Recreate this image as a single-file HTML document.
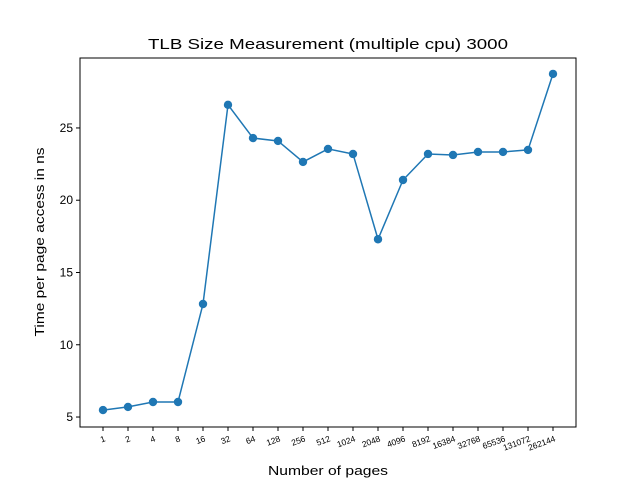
<!DOCTYPE html>
<html><head><meta charset="utf-8"><style>
body{margin:0;background:#fff}
svg{font-family:"Liberation Sans","DejaVu Sans",sans-serif}
</style></head><body>
<svg id="chart" width="640" height="480" viewBox="0 0 640 480" xmlns="http://www.w3.org/2000/svg">
<rect width="640" height="480" fill="#fff"/>
<text x="328" y="49" text-anchor="middle" font-size="14.5" textLength="360" lengthAdjust="spacingAndGlyphs">TLB Size Measurement (multiple cpu) 3000</text>
<text x="328" y="475" text-anchor="middle" font-size="13" textLength="120" lengthAdjust="spacingAndGlyphs">Number of pages</text>
<text transform="translate(44,242) rotate(-90)" text-anchor="middle" font-size="13" textLength="189" lengthAdjust="spacingAndGlyphs">Time per page access in ns</text>
<g id="plot"></g>
<rect x="80" y="58" width="496" height="369" fill="none" stroke="#000" stroke-width="1"/>
</svg>
<script>
const categories=["1","2","4","8","16","32","64","128","256","512","1024","2048","4096","8192","16384","32768","65536","131072","262144"];
const values=[5.48,5.7,6.04,6.04,12.82,26.6,24.3,24.1,22.65,23.55,23.2,17.3,21.4,23.2,23.13,23.34,23.34,23.48,28.74];
const yTicks=[5,10,15,20,25];
const NS="http://www.w3.org/2000/svg";
const L=80,R=576,T=58,B=427;
const xMin=-0.92,xMax=categories.length-1+0.92;
const yMin=4.31,yMax=29.84;
const xs=i=>L+(i-xMin)/(xMax-xMin)*(R-L);
const ys=v=>B-(v-yMin)/(yMax-yMin)*(B-T);
const g=document.getElementById('plot');
function mk(t,a){const e=document.createElementNS(NS,t);for(const k in a)e.setAttribute(k,a[k]);g.appendChild(e);return e;}
yTicks.forEach(v=>{
 const y=ys(v);
 const tk=mk('line',{x1:L-4,x2:L,y1:y,y2:y,stroke:'#000'});
 
 
 const t=mk('text',{x:L-7,y:y+4,'text-anchor':'end','font-size':'12'});
 t.textContent=v;
 
 
});
categories.forEach((c,i)=>{
 const x=xs(i);
 const tk=mk('line',{x1:x,x2:x,y1:B,y2:B+4,stroke:'#000'});
 
 
 const t=mk('text',{x:x+3,y:B+14,'text-anchor':'end','font-size':'8.5',transform:`rotate(-20 ${x+3} ${B+14})`});
 t.textContent=c;
 
 
});
const pts=values.map((v,i)=>xs(i)+','+ys(v)).join(' ');
const line=mk('polyline',{points:pts,fill:'none',stroke:'#1f77b4','stroke-width':'1.5'});


values.forEach((v,i)=>{
 const p=mk('circle',{cx:xs(i),cy:ys(v),r:4.2,fill:'#1f77b4'});
 
 
});
</script>
</body></html>
